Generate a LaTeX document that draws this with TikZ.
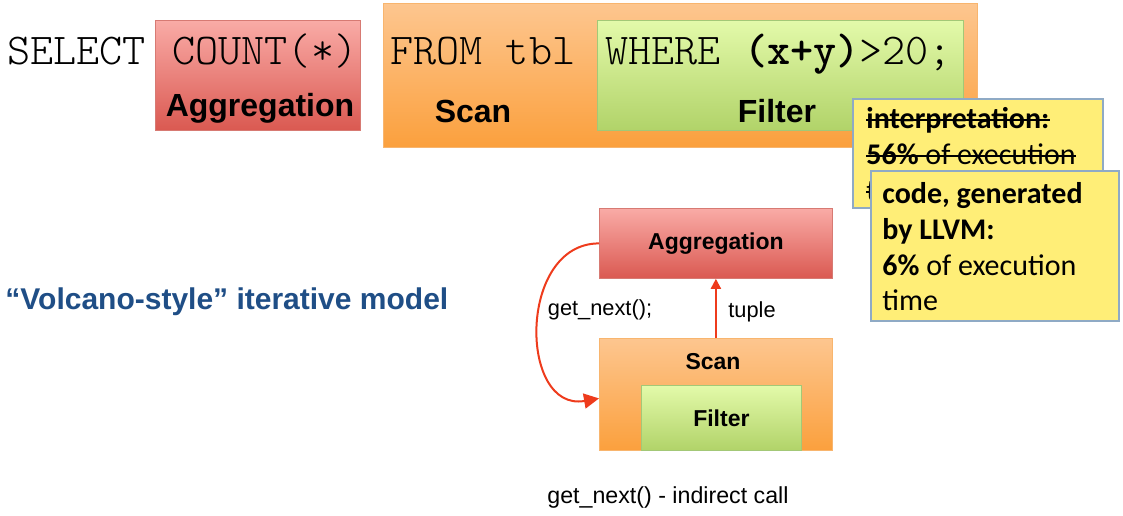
\documentclass[tikz,border=0pt]{standalone}
\usepackage{fontspec}
\setmainfont{Liberation Sans}
\newfontfamily\notefont{Carlito}
\newfontfamily\sqlfont[BoldFont=lmmonolt10-bold.otf]{lmmonolt10-regular.otf}
\usepackage[HTML]{xcolor}
\usetikzlibrary{positioning, arrows.meta}

\definecolor{redtop}{HTML}{F9ABA6}
\definecolor{redbot}{HTML}{DA5951}
\definecolor{redline}{HTML}{D77A73}
\definecolor{orangetop}{HTML}{FDC68F}
\definecolor{orangebot}{HTML}{FBA03D}
\definecolor{orangeline}{HTML}{F8B56E}
\definecolor{greentop}{HTML}{E3FAAA}
\definecolor{greenbot}{HTML}{B1D369}
\definecolor{greenline}{HTML}{A3C877}
\definecolor{noteyellow}{HTML}{FFEE77}
\definecolor{noteline}{HTML}{8FAAC5}
\definecolor{callred}{HTML}{EE3B1C}
\definecolor{volcanoblue}{HTML}{1F4E86}

\begin{document}
\begin{tikzpicture}[x=0.5pt, y=-0.5pt,
  box/.style={anchor=north west, inner sep=0pt, line width=0.4pt},
  redbox/.style={box, top color=redtop, bottom color=redbot, draw=redline},
  orangebox/.style={box, top color=orangetop, bottom color=orangebot, draw=orangeline},
  greenbox/.style={box, top color=greentop, bottom color=greenbot, draw=greenline},
  notebox/.style={box, fill=noteyellow, draw=noteline, line width=0.8pt},
  noteline/.style={anchor=base west, inner sep=0pt, font=\notefont\fontsize{15}{18}\selectfont},
  strike/.style={line width=1pt},
  sql/.style={anchor=base west, inner sep=0pt, font=\sqlfont\fontsize{22}{24}\selectfont},
  head/.style={anchor=base, inner sep=0pt, font=\bfseries\fontsize{16}{19}\selectfont},
  small/.style={inner sep=0pt, font=\bfseries\fontsize{11.5}{14}\selectfont},
  lbl/.style={inner sep=0pt, font=\fontsize{10.9}{13}\selectfont},
  call/.style={draw=callred, line width=1pt}]
\useasboundingbox (0,0) rectangle (1123,515);

% query with its operators
\node[redbox, minimum width=102.5pt, minimum height=55pt] (aggq) at (155,20) {};
\node[orangebox, minimum width=297pt, minimum height=72pt] (scanq) at (383,3) {};
\node[greenbox, minimum width=183pt, minimum height=55pt] (filterq) at (597,20) {};

\node[sql] (select) at (7,64) {SELECT};
\node[sql] (count) at (172,64) {COUNT(*)};
\node[sql] (from) at (390,64) {FROM tbl};
\node[sql] (where) at (605,64) {WHERE \textbf{(x+y)}>20;};

\node[head] (aggqlbl) at (260,116) {Aggregation};
\node[head] (scanqlbl) at (473,122) {Scan};
\node[head] (filterqlbl) at (777,122) {Filter};

% notes
\node[notebox, minimum width=125pt, minimum height=54.5pt] (interp) at (852,98) {};
\node[noteline] (interp1) at (866,128) {\textbf{interpretation:}};
\node[noteline] (interp2) at (866,164) {\textbf{56\%} of execution};
\node[noteline] (interp3) at (866,200) {time};
\foreach \l in {interp1, interp2, interp3}
  \draw[strike] ([yshift=4pt]\l.base west) -- ([yshift=4pt]\l.base east);
\node[notebox, minimum width=124pt, minimum height=75pt] (llvm) at (870,170) {};
\node[noteline] (llvm1) at (882,203) {\textbf{code, generated}};
\node[noteline] (llvm2) at (882,239) {\textbf{by LLVM:}};
\node[noteline] (llvm3) at (882,275) {\textbf{6\%} of execution};
\node[noteline] (llvm4) at (882,310) {time};

% iterator model
\node[anchor=base west, inner sep=0pt, text=volcanoblue, font=\bfseries\fontsize{15}{18}\selectfont] (volcano) at (5,309) {“Volcano-style” iterative model};

\node[redbox, small, minimum width=116.5pt, minimum height=35pt] (agg) at (599,208) {Aggregation};
\node[orangebox, minimum width=116.5pt, minimum height=56pt] (scan) at (599,338) {};
\node[small] (scanlbl) at (713,362) {Scan};
\node[greenbox, small, minimum width=80pt, minimum height=32.5pt] (filter) at (641,385) {Filter};

\draw[call, -{Triangle[length=5pt, width=5pt]}] (scan.north) -- (agg.south);
\node[lbl] (tuple) at (752,312) {tuple};
\draw[call, -{Triangle[length=7.5pt, width=7.5pt]}] (agg.west) to[out=180, in=190, looseness=1.35] ([yshift=-2pt]scan.west);
\node[lbl] (getnext) at (600,310) {get\_next();};

\node[lbl, font=\fontsize{11.6}{14}\selectfont] (indirect) at (668,497) {get\_next() - indirect call};
\end{tikzpicture}
\end{document}
